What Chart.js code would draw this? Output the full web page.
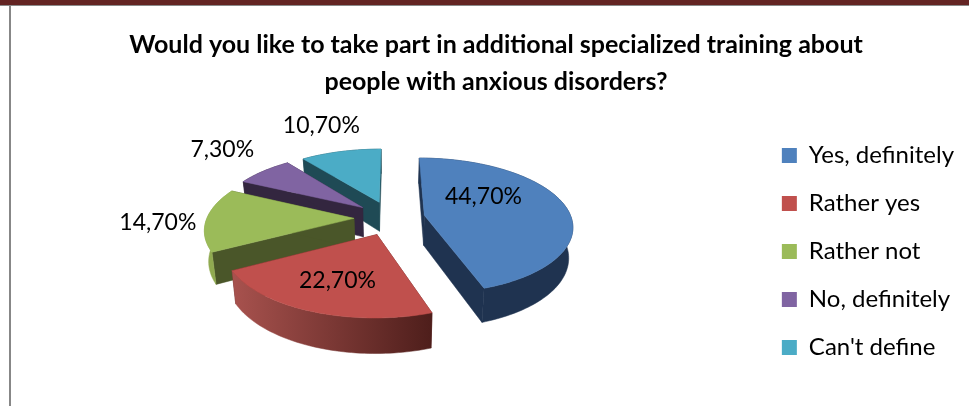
<!DOCTYPE html>
<html>
<head>
<meta charset="utf-8">
<style>
html,body{margin:0;padding:0;background:#fff;overflow:hidden}
#wrap{position:relative;width:969px;height:406px}
#band{position:absolute;left:0;top:0;width:969px;height:5px;background:#632423;border-bottom:1px solid #8a8a8a}
#rule{position:absolute;left:9px;top:6px;width:2px;height:400px;background:#878787}
canvas{position:absolute;left:0;top:0}
</style>
<script src="https://cdn.jsdelivr.net/npm/chart.js@4/dist/chart.umd.min.js"></script>
</head>
<body>
<div id="wrap">
<div id="band"></div><div id="rule"></div>
<canvas id="c" width="969" height="406"></canvas>
</div>
<script>
const categories = ["Yes, definitely","Rather yes","Rather not","No, definitely","Can't define"];
const values = [44.7,22.7,14.7,7.3,10.7];
const topColors = ["#4f81bd","#c0504d","#9bbb59","#8064a2","#4bacc6"];
const cutColors = ["#1f3350","#5a2220","#4a5629","#33263f","#1f4a55"];
const rimFrom = ["#1f3350","#a8524e","#90aa50","#33263f","#1f4a55"];
const rimTo = ["#1f3350","#4e1e1b","#90aa50","#33263f","#1f4a55"];
const explode = [34,37,37,37,37];
const labelRadial = [0.52,0.63,1.32,1.61,1.76];
const labelTurn = [-24,0,-1.5,3,0];
const titleLines = ["Would you like to take part in additional specialized training about","people with anxious disorders?"];
const view = {cx:391,cy:218,persp:0.15,tilt:0.465,depth:30,shrink:0.977};

function project(u,v,R,low){
  const s = 1+view.persp*v/R;
  let x = view.cx+u*s, y = view.cy+view.tilt*v*s;
  if(low){ x = view.cx+(x-view.cx)*view.shrink; y += view.depth*s; }
  return [x,y];
}
function poly(ctx,pts,fill){
  ctx.beginPath();
  pts.forEach((p,i)=> i?ctx.lineTo(p[0],p[1]):ctx.moveTo(p[0],p[1]));
  ctx.closePath();
  ctx.fillStyle=fill; ctx.strokeStyle=fill; ctx.lineWidth=0.5;
  ctx.fill(); ctx.stroke();
}
const pie3d = {
  id:'pie3d',
  beforeDatasetDraw(){ return false; },
  afterDatasetsDraw(chart){
    const ctx = chart.ctx, arcs = chart.getDatasetMeta(0).data;
    ctx.save();
    for(let i=arcs.length-1;i>=0;i--){
      const el=arcs[i], R=el.outerRadius, a0=el.startAngle, a1=el.endAngle, mid=(a0+a1)/2, off=el.options.offset;
      const ax=off*Math.cos(mid), ay=off*Math.sin(mid), n=Math.max(8,Math.ceil((a1-a0)*40));
      const rimPlane=[];
      for(let j=0;j<=n;j++){const t=a0+(a1-a0)*j/n; rimPlane.push([ax+R*Math.cos(t),ay+R*Math.sin(t)]);}
      const up=rimPlane.map(p=>project(p[0],p[1],R,false));
      const dn=rimPlane.map(p=>project(p[0],p[1],R,true));
      const apexUp=project(ax,ay,R,false), apexDn=project(ax,ay,R,true);
      poly(ctx,[apexUp,up[0],dn[0],apexDn],cutColors[i]);
      poly(ctx,[apexUp,up[n],dn[n],apexDn],cutColors[i]);
      const xs=up.map(p=>p[0]);
      const g=ctx.createLinearGradient(Math.min(...xs),0,Math.max(...xs),0);
      g.addColorStop(0,rimFrom[i]); g.addColorStop(1,rimTo[i]);
      poly(ctx,up.concat(dn.slice().reverse()),g);
      poly(ctx,[apexUp].concat(up),topColors[i]);
    }
    ctx.fillStyle='#000'; ctx.textAlign='center'; ctx.textBaseline='middle';
    ctx.font='23px Lato';
    arcs.forEach((el,i)=>{
      const R=el.outerRadius, mid=(el.startAngle+el.endAngle)/2, off=el.options.offset;
      const t=mid+labelTurn[i]*Math.PI/180, r=labelRadial[i]*R;
      const p=project(off*Math.cos(mid)+r*Math.cos(t),off*Math.sin(mid)+r*Math.sin(t),R,false);
      ctx.fillText(values[i].toFixed(2).replace('.',',')+'%',p[0],p[1]);
    });
    ctx.restore();
  }
};
new Chart(document.getElementById('c'),{
  type:'pie',
  data:{labels:categories,datasets:[{data:values,backgroundColor:topColors,borderWidth:0,offset:explode,radius:147}]},
  plugins:[pie3d],
  options:{
    responsive:false,animation:false,
    layout:{padding:{left:28,right:5,top:26,bottom:-71}},
    plugins:{
      tooltip:{enabled:false},
      title:{display:true,text:titleLines,color:'#000',font:{family:'Lato',size:25,weight:'bold',lineHeight:1.5},padding:{top:0,bottom:0}},
      legend:{position:'right',labels:{boxWidth:15,boxHeight:15,padding:24,color:'#000',font:{family:'Lato',size:24}}}
    }
  }
});
</script>
</body>
</html>
